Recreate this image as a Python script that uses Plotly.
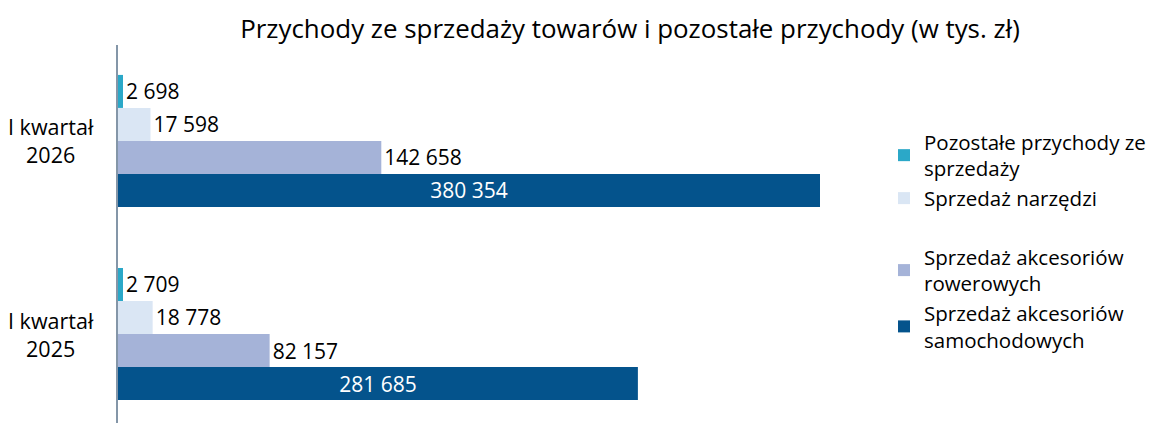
import plotly.graph_objects as go

categories = ["I kwartał 2026", "I kwartał 2025"]
category_labels = ["I kwartał<br>2026", "I kwartał<br>2025"]
series_names = [
    "Pozostałe przychody ze<br>sprzedaży",
    "Sprzedaż narzędzi",
    "Sprzedaż akcesoriów<br>rowerowych",
    "Sprzedaż akcesoriów<br>samochodowych",
]
pozostale = [2698, 2709]
narzedzia = [17598, 18778]
rowerowe = [142658, 82157]
samochodowe = [380354, 281685]

series_values = [pozostale, narzedzia, rowerowe, samochodowe]
colors = ["#2BA8C8", "#DAE6F4", "#A5B3D8", "#04538C"]
groups = ["g1", "g1", "g2", "g2"]

FONT = "Open Sans"

def fmt(v):
    return f"{v:,}".replace(",", " ")

fig = go.Figure()
for i, (name, vals) in enumerate(zip(series_names, series_values)):
    inside = i == 3
    fig.add_trace(go.Bar(
        y=categories, x=vals, orientation="h", name=name,
        marker=dict(color=colors[i], line=dict(width=0)),
        text=[fmt(v) for v in vals],
        textposition="inside" if inside else "outside",
        insidetextanchor="middle",
        constraintext="none",
        textfont=dict(family=FONT, size=21, color="white" if inside else "black"),
        cliponaxis=False,
        legendgroup=groups[i],
    ))

W, H = 1151, 423
ML, MR, MT, MB = 118, 271, 45, 0
plot_w = W - ML - MR

annotations = []
for cat, lab in zip(categories, category_labels):
    annotations.append(dict(
        text=lab, x=(96 - ML) / plot_w, xref="paper", y=cat, yref="y",
        xanchor="right", yanchor="middle", align="center", showarrow=False,
        font=dict(family=FONT, size=21.5, color="black"),
    ))

fig.update_layout(
    width=W, height=H,
    margin=dict(l=ML, r=MR, t=MT, b=MB, pad=0),
    paper_bgcolor="white", plot_bgcolor="white",
    barmode="group", bargap=0.316, bargroupgap=0,
    uniformtext=dict(mode=False),
    title=dict(
        text="Przychody ze sprzedaży towarów i pozostałe przychody (w tys. zł)",
        x=630 / W, xref="container", xanchor="center",
        y=1 - 29 / H, yref="container", yanchor="middle",
        font=dict(family=FONT, size=25.9, color="black"),
    ),
    xaxis=dict(range=[0, plot_w * 380354 / 702], showgrid=False, zeroline=False,
               showticklabels=False, showline=False, ticks=""),
    yaxis=dict(categoryorder="array", categoryarray=categories,
               range=[1.461, -0.497], showgrid=False, zeroline=False,
               showticklabels=False, showline=True, linecolor="#8496A8",
               linewidth=1.5, ticks=""),
    legend=dict(
        x=884 / W, xref="container", xanchor="left",
        y=1 - 122 / H, yref="container", yanchor="top",
        traceorder="grouped", tracegroupgap=29, maxheight=1,
        font=dict(family=FONT, size=20.5, color="black"),
        bgcolor="rgba(0,0,0,0)",
    ),
    annotations=annotations,
    showlegend=True,
)

fig.write_html("out.html", config={"displayModeBar": False},
               post_script="document.body.style.margin='0';")
